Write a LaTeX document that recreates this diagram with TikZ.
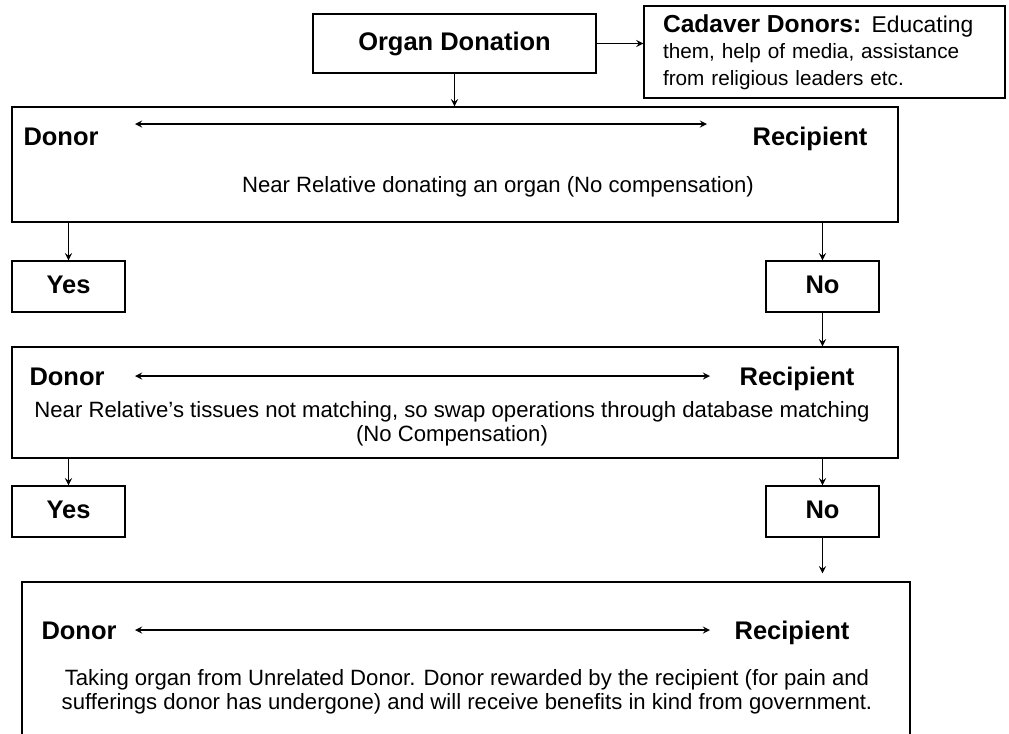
\documentclass[tikz,border=0pt]{standalone}
\usepackage{fontspec}
\setmainfont{Liberation Sans}
\usepackage{xcolor}

\begin{document}
\begin{tikzpicture}[x=0.02cm, y=-0.02cm]
    % Styles
    \tikzstyle{box} = [rectangle, draw=black, line width=0.8pt, inner sep=0pt]
    \tikzstyle{tag} = [font=\fontsize{14.5}{17}\selectfont\bfseries, inner sep=1pt, text height=1em, text depth=0.25em]
    \tikzstyle{note} = [font=\fontsize{12.6}{13.7}\selectfont, align=center, inner sep=0pt]
    \tikzstyle{arrow} = [->, >=stealth, line width=0.8pt]
    \tikzstyle{twoway} = [<->, >=stealth, line width=0.8pt]

    \useasboundingbox (0,0) rectangle (1009,734);

    % Top row
    \node[box, minimum width=5.66cm, minimum height=1.18cm, font=\fontsize{14.5}{17}\selectfont\bfseries] (organ) at (454.5, 43.5) {Organ Donation};
    \node[box, minimum width=7.22cm, minimum height=1.84cm, text width=6.46cm, align=left, inner xsep=0.38cm, font=\fontsize{11.8}{15.2}\selectfont] (cadaver) at (824.5, 52)
        {{\fontsize{14}{15.2}\selectfont\bfseries Cadaver Donors:}{\fontsize{13}{15.2}\selectfont{} Educating}\\them, help of media, assistance\\from religious leaders etc.};

    % Near relative
    \node[box, minimum width=17.72cm, minimum height=2.30cm] (rel1) at (455, 164.5) {};
    \node[tag] (donor1) at (61, 139) {Donor};
    \node[tag] (recip1) at (810, 139) {Recipient};
    \coordinate (l1) at (135, 124);
    \coordinate (r1) at (707, 124);
    \node[note] (text1) at (498, 187) {Near Relative donating an organ (No compensation)};

    \node[box, tag, minimum width=2.26cm, minimum height=1.02cm] (yes1) at (68.5, 286.5) {Yes};
    \node[box, tag, minimum width=2.26cm, minimum height=1.02cm] (no1) at (822.5, 286.5) {No};

    % Swap operations
    \node[box, minimum width=17.72cm, minimum height=2.22cm] (rel2) at (455, 402.5) {};
    \node[tag] (donor2) at (67, 379) {Donor};
    \node[tag] (recip2) at (797, 379) {Recipient};
    \coordinate (l2) at (135, 376);
    \coordinate (r2) at (710, 376);
    \node[note] (text2) at (452, 424) {Near Relative's tissues not matching, so swap operations through database matching\\(No Compensation)};

    \node[box, tag, minimum width=2.26cm, minimum height=1.02cm] (yes2) at (68.5, 511.5) {Yes};
    \node[box, tag, minimum width=2.26cm, minimum height=1.02cm] (no2) at (822.5, 511.5) {No};

    % Unrelated donor
    \node[box, minimum width=17.76cm, minimum height=3.36cm] (rel3) at (466, 666) {};
    \node[tag] (donor3) at (79, 633) {Donor};
    \node[tag] (recip3) at (792, 633) {Recipient};
    \coordinate (l3) at (135, 630);
    \coordinate (r3) at (710, 630);
    \node[note] (text3) at (467, 692) {Taking organ from Unrelated Donor. Donor rewarded by the recipient (for pain and\\sufferings donor has undergone) and will receive benefits in kind from government.};

    % Arrows
    \draw[arrow] (organ.east) -- (organ.east -| cadaver.west);
    \draw[arrow] (organ.south) -- (organ |- rel1.north);
    \draw[twoway] (l1) -- (r1);
    \draw[arrow] (yes1 |- rel1.south) -- (yes1.north);
    \draw[arrow] (no1 |- rel1.south) -- (no1.north);
    \draw[arrow] (no1.south) -- (no1 |- rel2.north);
    \draw[twoway] (l2) -- (r2);
    \draw[arrow] (yes2 |- rel2.south) -- (yes2.north);
    \draw[arrow] (no2 |- rel2.south) -- (no2.north);
    \draw[arrow, shorten >=0.16cm] (no2.south) -- (no2 |- rel3.north);
    \draw[twoway] (l3) -- (r3);
\end{tikzpicture}
\end{document}
